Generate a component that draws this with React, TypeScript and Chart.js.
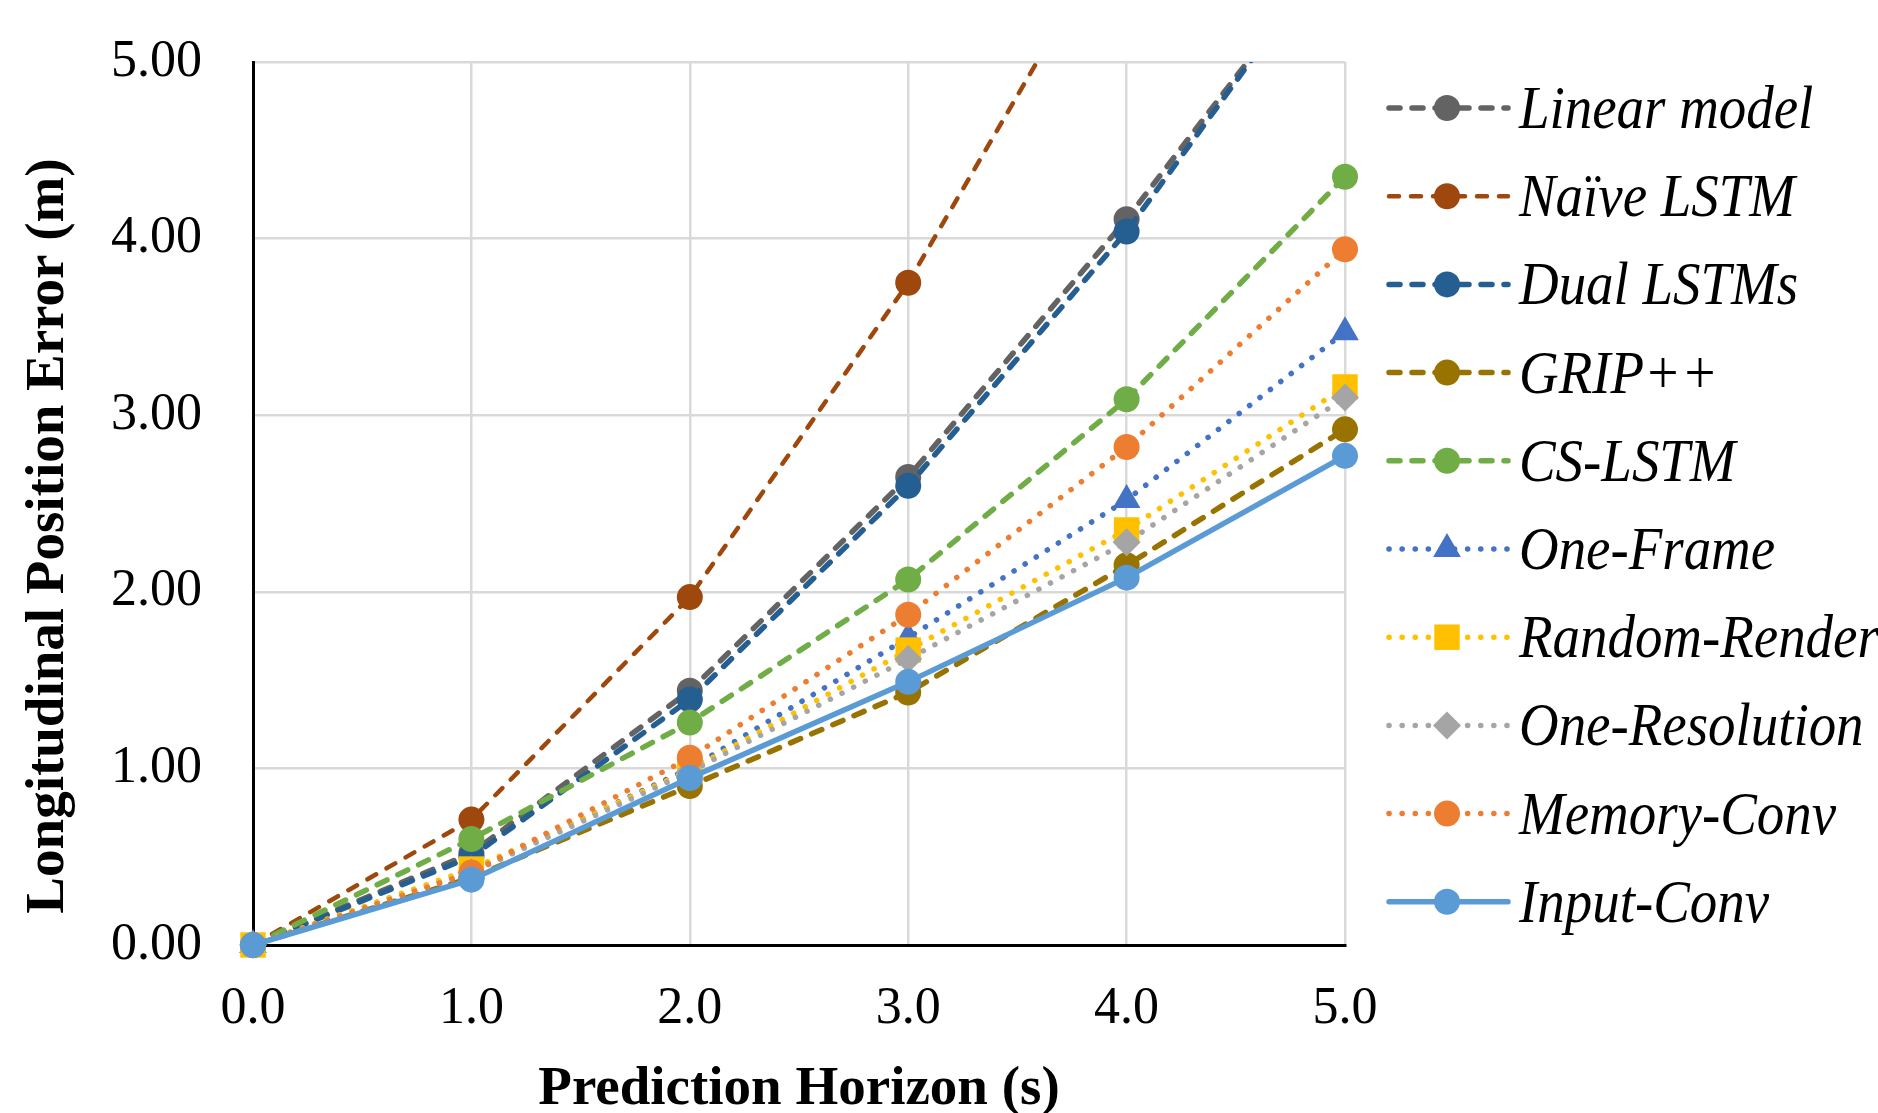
import React, { useEffect, useRef } from 'react';
import { Chart, registerables } from 'chart.js';

Chart.register(...registerables);

// ---------------- data ----------------
const xValues = [0, 1, 2, 3, 4, 5];
const seriesNames = [
  'Linear model',
  'Naïve LSTM',
  'Dual LSTMs',
  'GRIP++',
  'CS-LSTM',
  'One-Frame',
  'Random-Render',
  'One-Resolution',
  'Memory-Conv',
  'Input-Conv',
];
const linearModel = [0, 0.52, 1.44, 2.65, 4.11, 5.72];
const naiveLSTM = [0, 0.71, 1.97, 3.75, 5.87, 8.2];
const dualLSTMs = [0, 0.5, 1.39, 2.6, 4.04, 5.74];
const gripPP = [0, 0.38, 0.9, 1.43, 2.15, 2.92];
const csLSTM = [0, 0.6, 1.26, 2.07, 3.09, 4.35];
const oneFrame = [0, 0.42, 1.0, 1.74, 2.52, 3.47];
const randomRender = [0, 0.43, 0.99, 1.67, 2.35, 3.16];
const oneResolution = [0, 0.41, 0.98, 1.62, 2.28, 3.1];
const memoryConv = [0, 0.41, 1.06, 1.87, 2.82, 3.94];
const inputConv = [0, 0.37, 0.945, 1.49, 2.08, 2.77];
const seriesValues = [
  linearModel, naiveLSTM, dualLSTMs, gripPP, csLSTM,
  oneFrame, randomRender, oneResolution, memoryConv, inputConv,
];
const yTickValues = [0, 1, 2, 3, 4, 5];
const xTickValues = [0, 1, 2, 3, 4, 5];
const xTitle = 'Prediction Horizon (s)';
const yTitle = 'Longitudinal Position Error (m)';

// ---------------- styles ----------------
const colors = [
  '#636363', '#9E480E', '#255E91', '#997300', '#70AD47',
  '#4472C4', '#FFC000', '#A5A5A5', '#ED7D31', '#5B9BD5',
];
const DASH = [11, 12];
const DASH_THIN = [10, 12];
const DOT = [0.1, 13];
const dashes = [DASH, DASH_THIN, DASH, DASH, DASH, DOT, DOT, DOT, DOT, []];
const widths = [5.5, 4.5, 5.5, 5.5, 5.5, 5.5, 5.5, 5.5, 5.5, 5.5];
const pointStyles = ['circle', 'circle', 'circle', 'circle', 'circle', 'triangle', 'rect', 'rectRot', 'circle', 'circle'];
const radiusFor: Record<string, number> = { circle: 13, triangle: 16, rect: 18, rectRot: 14 };

const SERIF = '"Liberation Serif", "Times New Roman", serif';

function drawMarker(ctx: CanvasRenderingContext2D, style: string, x: number, y: number, color: string) {
  const r = radiusFor[style];
  ctx.save();
  ctx.setLineDash([]);
  ctx.fillStyle = color;
  ctx.beginPath();
  if (style === 'circle') {
    ctx.arc(x, y, r, 0, Math.PI * 2);
  } else if (style === 'triangle') {
    for (let k = 0; k < 3; k++) {
      const a = -Math.PI / 2 + (k * 2 * Math.PI) / 3;
      const px = x + Math.cos(a) * r;
      const py = y + Math.sin(a) * r;
      if (k === 0) ctx.moveTo(px, py);
      else ctx.lineTo(px, py);
    }
    ctx.closePath();
  } else if (style === 'rect') {
    const s = Math.SQRT1_2 * r;
    ctx.rect(x - s, y - s, 2 * s, 2 * s);
  } else {
    ctx.moveTo(x, y - r);
    ctx.lineTo(x + r, y);
    ctx.lineTo(x, y + r);
    ctx.lineTo(x - r, y);
    ctx.closePath();
  }
  ctx.fill();
  ctx.restore();
}

const decorPlugin = {
  id: 'decor',
  afterDraw(chart: any) {
    const ctx: CanvasRenderingContext2D = chart.ctx;
    const area = chart.chartArea;
    // legend
    const lineStart = area.right + 44;
    const markerX = area.right + 102;
    const lineEnd = area.right + 163;
    const textX = area.right + 174;
    const rowTop = area.top + 46;
    const rowGap = 88.2;
    seriesNames.forEach((name, i) => {
      const y = rowTop + i * rowGap;
      ctx.save();
      ctx.strokeStyle = colors[i];
      ctx.lineWidth = widths[i];
      ctx.lineCap = 'round';
      ctx.setLineDash(dashes[i]);
      ctx.beginPath();
      ctx.moveTo(lineStart, y);
      ctx.lineTo(lineEnd, y);
      ctx.stroke();
      ctx.restore();
      drawMarker(ctx, pointStyles[i], markerX, y, colors[i]);
      ctx.save();
      ctx.fillStyle = '#000';
      ctx.font = `italic 61px ${SERIF}`;
      ctx.textAlign = 'left';
      ctx.textBaseline = 'alphabetic';
      ctx.translate(textX, y + 20);
      ctx.scale(0.9, 1);
      ctx.fillText(name, 0, 0);
      ctx.restore();
    });
    // axis titles
    ctx.save();
    ctx.fillStyle = '#000';
    ctx.font = `bold 55px ${SERIF}`;
    ctx.textAlign = 'center';
    ctx.textBaseline = 'alphabetic';
    ctx.fillText(xTitle, (area.left + area.right) / 2, 1104);
    ctx.translate(63, 536);
    ctx.rotate(-Math.PI / 2);
    ctx.fillText(yTitle, 0, 0);
    ctx.restore();
  },
};

export default function App() {
  const canvasRef = useRef<HTMLCanvasElement | null>(null);

  useEffect(() => {
    const canvas = canvasRef.current;
    if (!canvas) return;
    const n = seriesNames.length;
    const datasets = seriesNames.map((name, i) => ({
      label: name,
      data: xValues.map((x, j) => ({ x, y: seriesValues[i][j] })),
      borderColor: colors[i],
      backgroundColor: colors[i],
      borderWidth: widths[i],
      borderDash: dashes[i],
      borderCapStyle: 'round' as const,
      pointStyle: pointStyles[i] as any,
      pointRadius: radiusFor[pointStyles[i]],
      pointBackgroundColor: colors[i],
      pointBorderColor: colors[i],
      pointBorderWidth: 0,
      tension: 0,
      fill: false,
      clip: { left: 30, right: 30, bottom: 30, top: 0 } as any,
      order: n - i,
    }));

    const chart = new Chart(canvas, {
      type: 'line',
      data: { datasets },
      options: {
        animation: false,
        responsive: false,
        devicePixelRatio: 1,
        layout: { padding: { left: 0, top: 62, right: 533, bottom: 0 } },
        plugins: {
          legend: { display: false },
          tooltip: { enabled: false },
        },
        scales: {
          x: {
            type: 'linear',
            min: 0,
            max: 5,
            afterFit: (s: any) => { s.height = 168; },
            afterBuildTicks: (s: any) => { s.ticks = xTickValues.map((v) => ({ value: v })); },
            ticks: {
              padding: 33,
              color: '#000',
              font: { family: SERIF, size: 52 },
              callback: (v: any) => Number(v).toFixed(1),
            },
            grid: { color: '#D9D9D9', lineWidth: 2.5, drawTicks: false },
            border: { color: '#000', width: 3 },
          },
          y: {
            type: 'linear',
            min: 0,
            max: 5,
            afterFit: (s: any) => { s.width = 253; },
            afterBuildTicks: (s: any) => { s.ticks = yTickValues.map((v) => ({ value: v })); },
            ticks: {
              padding: 0,
              color: '#000',
              font: { family: SERIF, size: 52 },
              callback: (v: any) => Number(v).toFixed(2),
            },
            grid: {
              color: '#D9D9D9',
              lineWidth: 2.5,
              drawTicks: true,
              tickLength: 51,
              tickColor: 'rgba(0,0,0,0)',
            },
            border: { color: '#000', width: 3 },
          },
        },
      },
      plugins: [decorPlugin],
    });
    return () => chart.destroy();
  }, []);

  return (
    <div style={{ position: 'fixed', left: 0, top: 0, width: 1878, height: 1113, background: '#fff' }}>
      <canvas ref={canvasRef} width={1878} height={1113} style={{ width: 1878, height: 1113, display: 'block' }} />
    </div>
  );
}
